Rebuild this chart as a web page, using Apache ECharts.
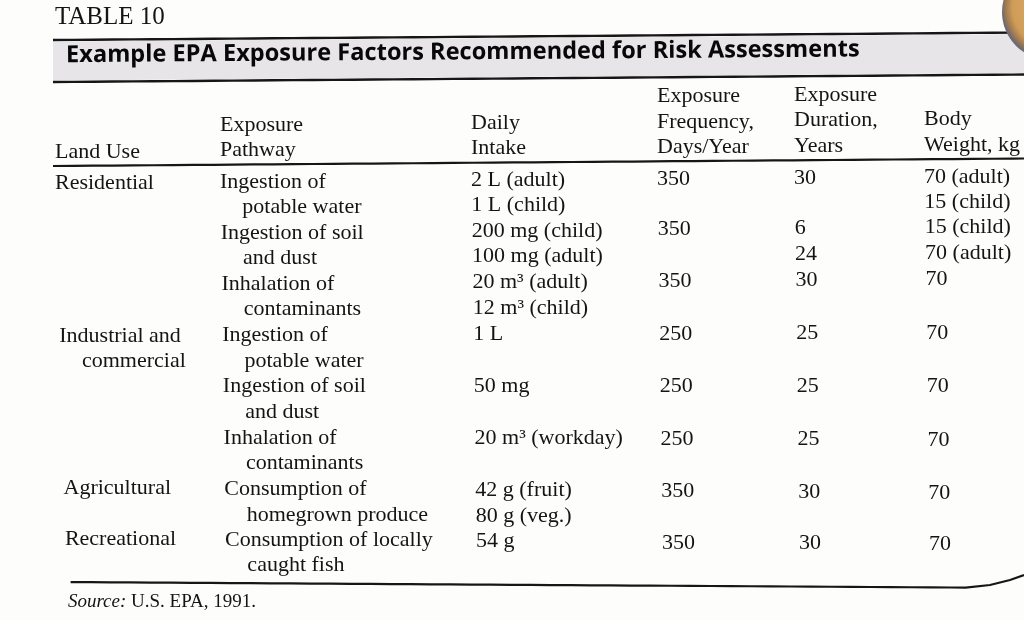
<!DOCTYPE html>
<html>
<head>
<meta charset="utf-8">
<script src="https://cdn.jsdelivr.net/npm/echarts@6/dist/echarts.min.js"></script>
<style>
  html, body { margin: 0; padding: 0; background: #fdfdfc; }
  #chart { width: 1024px; height: 620px; }
</style>
</head>
<body>
<div id="chart"></div>
<script>
// 表格文字
const tableLabel = 'TABLE 10'
const tableTitle = 'Example EPA Exposure Factors Recommended for Risk Assessments'
const sourceNote = 'U.S. EPA, 1991.'

// 表头（三行，自上而下）
const headLand = ['', '', 'Land Use']
const headPathway = ['', 'Exposure', 'Pathway']
const headIntake = ['', 'Daily', 'Intake']
const headFrequency = ['Exposure', 'Frequency,', 'Days/Year']
const headDuration = ['Exposure', 'Duration,', 'Years']
const headWeight = ['', 'Body', 'Weight, kg']

// 每行的内容（第二行文字缩进）
const landUse = [['Residential'], [], [], ['Industrial and', 'commercial'], [], [], ['Agricultural'], ['Recreational']]
const pathway = [
  ['Ingestion of', 'potable water'],
  ['Ingestion of soil', 'and dust'],
  ['Inhalation of', 'contaminants'],
  ['Ingestion of', 'potable water'],
  ['Ingestion of soil', 'and dust'],
  ['Inhalation of', 'contaminants'],
  ['Consumption of', 'homegrown produce'],
  ['Consumption of locally', 'caught fish']
]
const dailyIntake = [
  ['2 L (adult)', '1 L (child)'],
  ['200 mg (child)', '100 mg (adult)'],
  ['20 m³ (adult)', '12 m³ (child)'],
  ['1 L'],
  ['50 mg'],
  ['20 m³ (workday)'],
  ['42 g (fruit)', '80 g (veg.)'],
  ['54 g']
]
const frequency = [['350'], ['350'], ['350'], ['250'], ['250'], ['250'], ['350'], ['350']]
const duration = [['30'], ['6', '24'], ['30'], ['25'], ['25'], ['25'], ['30'], ['30']]
const bodyWeight = [
  ['70 (adult)', '15 (child)'],
  ['15 (child)', '70 (adult)'],
  ['70'], ['70'], ['70'], ['70'], ['70'], ['70']
]

// 版式
const colX = [55, 220, 471, 657, 794, 924]
const indent = 22
const headTop = 101
const bodyTop = 183.5
const pitch = 25.4
const bodyFont = '22px "Liberation Serif"'
const ink = '#141414'

// 照片的透视：右侧上部偏高、下部偏低
function warpY(x, y) {
  const t = Math.min(1, Math.max(0, (y - 260) / 240))
  const s = -7.5 + 13.5 * t
  return y + (x - 55) / 970 * s
}
function warpX(x, y) {
  return x + Math.max(0, y - bodyTop) / 355 * 5
}

// 组装单元格
const cells = []
function addCell(x, y, text, kind) {
  if (text) cells.push({ x: x, y: y, text: text, kind: kind })
}
addCell(55, 17, tableLabel, 'label')
addCell(66, 55.5, tableTitle, 'title')
addCell(62, 602, sourceNote, 'source')

const heads = [headLand, headPathway, headIntake, headFrequency, headDuration, headWeight]
heads.forEach((col, c) => {
  col.forEach((t, j) => addCell(colX[c], headTop + pitch * j, t, 'body'))
})

const bodyCols = [landUse, pathway, dailyIntake, frequency, duration, bodyWeight]
bodyCols.forEach((col, c) => {
  col.forEach((lines, r) => {
    lines.forEach((t, j) => {
      const ind = (c <= 1 && j > 0) ? indent : 0
      const line = 2 * r + j
      // 左列在照片里向右偏得更多
      const drift = c === 0 ? line * 0.35 : 0
      addCell(colX[c] + ind + drift, bodyTop + pitch * line, t, 'body')
    })
  })
})

// 横线（未变形的 y）
const rules = [
  { y: 40, width: 2.4 },
  { y: 82, width: 2.4 },
  { y: 166, width: 2.2 },
  { y: 582, width: 2.2 }
]
const band = { top: 41.5, bottom: 80.5, left: 53, right: 1024 }

const chart = echarts.init(document.getElementById('chart'))

function warpedPts(api, y, x0, x1) {
  const pts = []
  for (let x = x0; x <= x1; x += 20) {
    pts.push(api.coord([warpX(x, y), warpY(x, y)]))
  }
  pts.push(api.coord([warpX(x1, y), warpY(x1, y)]))
  return pts
}

const option = {
  backgroundColor: '#fdfdfc',
  animation: false,
  grid: { left: 0, right: 0, top: 0, bottom: 0 },
  xAxis: { type: 'value', min: 0, max: 1024, show: false },
  yAxis: { type: 'value', min: 0, max: 620, inverse: true, show: false },
  graphic: [
    {
      type: 'circle',
      z: 100,
      shape: { cx: 1050, cy: 12, r: 48 },
      style: {
        fill: {
          type: 'radial', x: 0.55, y: 0.45, r: 0.55,
          colorStops: [
            { offset: 0, color: '#e2b06a' },
            { offset: 0.8, color: '#cf9d58' },
            { offset: 0.93, color: '#a07a50' },
            { offset: 1, color: '#6e6b72' }
          ]
        }
      }
    }
  ],
  series: [
    {
      type: 'custom',
      data: [[0, 0]],
      silent: true,
      renderItem: function (params, api) {
        const children = []
        const top = warpedPts(api, band.top, band.left, band.right)
        const bottom = warpedPts(api, band.bottom, band.left, band.right).reverse()
        children.push({
          type: 'polygon',
          shape: { points: top.concat(bottom) },
          style: { fill: '#e7e5e8' }
        })
        rules.forEach(r => {
          const x0 = r.y > 500 ? 65 : 53
          const pts = warpedPts(api, r.y, x0, r.y > 500 ? 960 : 1024)
          if (r.y > 500) {
            // 纸张右下角翘起
            pts.push(api.coord([990, 585]))
            pts.push(api.coord([1010, 580]))
            pts.push(api.coord([1024, 575]))
          }
          children.push({
            type: 'polyline',
            shape: { points: pts },
            style: { stroke: '#161616', lineWidth: r.width, fill: null }
          })
        })
        return { type: 'group', children: children }
      }
    },
    {
      type: 'custom',
      data: cells.map(c => [c.x, c.y]),
      silent: true,
      renderItem: function (params, api) {
        const c = cells[params.dataIndex]
        const x = api.value(0)
        const y = api.value(1)
        const p = api.coord([warpX(x, y), warpY(x, y)])
        const style = { text: c.text, fill: ink, textAlign: 'left', textVerticalAlign: 'middle', font: bodyFont }
        let rotation = 0
        if (c.kind === 'label') {
          style.font = '25px "Liberation Serif"'
        } else if (c.kind === 'title') {
          style.font = 'bold 23.6px "Open Sans"'
          style.fill = '#080808'
          rotation = Math.atan(7 / 970)
        } else if (c.kind === 'source') {
          style.text = '{i|Source:} ' + c.text
          style.font = '19px "Liberation Serif"'
          style.rich = { i: { font: 'italic 19px "Liberation Serif"', fill: ink } }
        }
        return { type: 'text', x: p[0], y: p[1], rotation: rotation, style: style }
      }
    }
  ]
}

chart.setOption(option)
</script>
</body>
</html>
